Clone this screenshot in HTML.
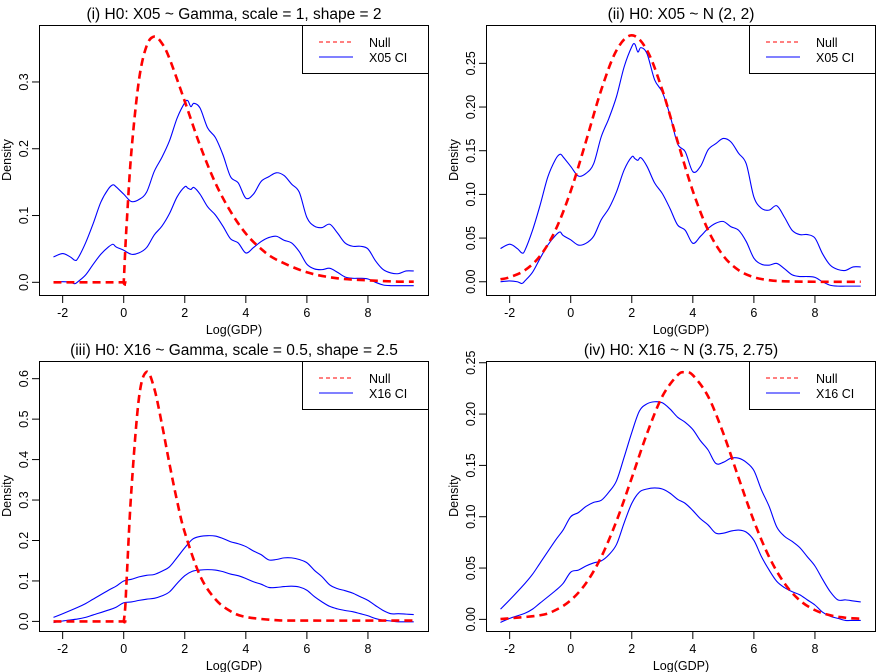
<!DOCTYPE html>
<html><head><meta charset="utf-8"><style>
html,body{margin:0;padding:0;background:#fff}
svg{display:block;font-family:"Liberation Sans",Arial,sans-serif}
</style></head><body>
<svg id="chart" width="894" height="672" viewBox="0 0 894 672"></svg>
<script>
const x05Grid=[-2.3,-2,-1.75,-1.6,-1.5,-1.25,-1,-0.75,-0.5,-0.35,-0.25,0,0.25,0.5,0.75,1,1.25,1.5,1.75,2,2.1,2.2,2.3,2.5,2.75,3,3.25,3.5,3.75,4,4.25,4.5,4.75,5,5.25,5.5,5.75,6,6.25,6.5,6.75,7,7.25,7.5,7.75,8,8.25,8.5,8.75,9,9.25,9.5];
const x05Upper=[.038,.043,.038,.033,.036,.059,.088,.120,.140,.146,.143,.132,.121,.124,.135,.166,.187,.212,.246,.269,.272,.263,.268,.261,.231,.217,.191,.158,.149,.126,.132,.151,.158,.164,.160,.147,.135,.097,.084,.082,.087,.074,.059,.054,.054,.050,.032,.019,.014,.013,.017,.017];
const x05Lower=[.000,.001,.000,-.002,.001,.011,.027,.042,.053,.057,.053,.048,.042,.044,.052,.071,.084,.103,.128,.143,.141,.139,.142,.132,.113,.101,.084,.065,.059,.044,.052,.061,.067,.069,.063,.059,.046,.027,.020,.019,.021,.015,.008,.006,.006,.005,.000,-.004,-.005,-.005,-.005,-.005];
const x16Grid=[-2.3,-2,-1.5,-1.25,-1,-0.5,-0.25,0,0.25,0.5,0.75,1,1.25,1.5,1.75,2,2.25,2.5,2.75,3,3.25,3.5,3.75,4,4.25,4.5,4.75,5,5.25,5.5,5.75,6,6.25,6.5,6.75,7,7.25,7.5,7.75,8,8.25,8.5,8.75,9,9.25,9.5];
const x16Upper=[.010,.019,.035,.044,.055,.077,.087,.100,.104,.110,.114,.116,.124,.135,.158,.182,.203,.210,.212,.211,.205,.197,.192,.185,.174,.165,.152,.153,.157,.157,.153,.145,.126,.110,.090,.081,.076,.070,.061,.052,.039,.027,.019,.019,.018,.017];
const x16Lower=[-.003,.001,.006,.010,.016,.028,.035,.046,.048,.052,.055,.057,.063,.073,.094,.113,.124,.127,.128,.127,.123,.117,.113,.106,.098,.092,.084,.084,.086,.087,.085,.077,.061,.048,.037,.031,.027,.024,.019,.014,.007,.003,.001,-.001,-.001,-.001];
const null1X=[-2.3,-0.02,0,0.05,0.1,0.25,0.5,0.75,1,1.25,1.5,2,2.5,3,3.5,4,4.5,5,6,7,8,9,9.5];
const null1Y=[0,0,0,0.048,0.090,0.195,0.303,0.354,0.368,0.358,0.335,0.271,0.205,0.149,0.106,0.073,0.050,0.034,0.015,0.006,0.003,0.001,0.001];
const null2X=[-2.3,-2,-1.5,-1,-0.5,0,0.5,1,1.5,2,2.5,3,3.5,4,4.5,5,5.5,6,6.5,7,8,9.5];
const null2Y=[.0028,.0052,.0132,.0297,.0591,.1038,.1607,.2196,.2649,.2821,.2649,.2196,.1607,.1038,.0591,.0297,.0132,.0052,.0018,.0005,0,0];
const null3X=[-2.3,-0.02,0,0.05,0.1,0.25,0.5,0.75,1,1.25,1.5,1.75,2,2.5,3,3.5,4,5,6,9.5];
const null3Y=[0,0,0,0.035,0.110,0.323,0.553,0.617,0.576,0.488,0.389,0.297,0.220,0.113,0.055,0.025,0.011,0.003,0.002,0.002];
const null4X=[-2.3,-1,-0.5,0,0.5,1,1.5,2,2.5,3,3.5,3.75,4,4.5,5,5.5,6,6.5,7,7.5,8,8.5,9,9.5];
const null4Y=[.0003,.0040,.0090,.0186,.0352,.0608,.0958,.1378,.1811,.2172,.2379,.2406,.2379,.2172,.1811,.1378,.0958,.0608,.0352,.0186,.0090,.0040,.0016,.0006];
const xTicks=[-2,0,2,4,6,8];
const yTicks1=[0,0.1,0.2,0.3], yTicks2=[0,0.05,0.1,0.15,0.2,0.25], yTicks3=[0,0.1,0.2,0.3,0.4,0.5,0.6], yTicks4=[0,0.05,0.1,0.15,0.2,0.25];
const yLabels1=["0.0","0.1","0.2","0.3"], yLabels2=["0.00","0.05","0.10","0.15","0.20","0.25"], yLabels3=["0.0","0.1","0.2","0.3","0.4","0.5","0.6"], yLabels4=yLabels2;

const NS="http://www.w3.org/2000/svg";
const svg=document.getElementById('chart');
function mk(tag,attrs,parent,text){const e=document.createElementNS(NS,tag);for(const k in attrs)e.setAttribute(k,attrs[k]);if(text!==undefined)e.textContent=text;(parent||svg).appendChild(e);return e;}
function smoothPath(pts){let d="M"+pts[0][0].toFixed(2)+","+pts[0][1].toFixed(2);
 for(let i=0;i<pts.length-1;i++){const p0=pts[Math.max(0,i-1)],p1=pts[i],p2=pts[i+1],p3=pts[Math.min(pts.length-1,i+2)];
  const c1=[p1[0]+(p2[0]-p0[0])/6,p1[1]+(p2[1]-p0[1])/6],c2=[p2[0]-(p3[0]-p1[0])/6,p2[1]-(p3[1]-p1[1])/6];
  d+="C"+c1[0].toFixed(2)+","+c1[1].toFixed(2)+" "+c2[0].toFixed(2)+","+c2[1].toFixed(2)+" "+p2[0].toFixed(2)+","+p2[1].toFixed(2);}
 return d;}
function panel(ox,oy,title,yMin,yMax,yTicks,yLabels,nx,ny,ciX,ciU,ciL,legendLabel,id){
 const g=mk('g',{transform:`translate(${ox},${oy})`});
 
 
 const L=39,R=429,T=25,B=296,xMin=-2.775,xMax=10.0;
 const sx=v=>L+(v-xMin)/(xMax-xMin)*(R-L);
 const sy=v=>B-(v-yMin)/(yMax-yMin)*(B-T);
 const t=mk('text',{x:234,y:19,'text-anchor':'middle','font-size':15.5},g,title);
 
 
 const box=mk('rect',{x:L+0.5,y:T+0.5,width:R-L-1,height:B-T-1,fill:'none',stroke:'#000','stroke-width':1},g);
 
 
 xTicks.forEach(v=>{const x=sx(v);mk('line',{x1:x,x2:x,y1:B,y2:B+7,stroke:'#000'},g);
  const tl=mk('text',{x:x,y:B+21,'text-anchor':'middle','font-size':12.5},g,String(v).replace('-','-'));
  
  });
 yTicks.forEach((v,i)=>{const y=sy(v);mk('line',{x1:L-7,x2:L,y1:y,y2:y,stroke:'#000'},g);
  const tl=mk('text',{x:0,y:0,'text-anchor':'middle','font-size':12.5,transform:`translate(${L-11},${y}) rotate(-90)`},g,yLabels[i]);
  
  });
 const xt=mk('text',{x:234,y:334,'text-anchor':'middle','font-size':12.5},g,'Log(GDP)');
 
 
 const yt=mk('text',{x:0,y:0,'text-anchor':'middle','font-size':12.5,transform:`translate(11,160) rotate(-90)`},g,'Density');
 
 
 const clip=mk('clipPath',{id:'clip'+id},g);mk('rect',{x:L,y:T,width:R-L,height:B-T},clip);
 const u=mk('path',{d:smoothPath(ciX.map((x,i)=>[sx(x),sy(ciU[i])])),fill:'none',stroke:'#0000ff','stroke-width':1.1},g);
 
 
 const lo=mk('path',{d:smoothPath(ciX.map((x,i)=>[sx(x),sy(ciL[i])])),fill:'none',stroke:'#0000ff','stroke-width':1.1},g);
 
 
 const n=mk('path',{d:smoothPath(nx.map((x,i)=>[sx(x),sy(ny[i])])),fill:'none',stroke:'#ff0000','stroke-width':2.6,'stroke-dasharray':'8,5','clip-path':`url(#clip${id})`},g);
 
 
 const lg=mk('g',{},g);
 
 
 mk('rect',{x:302.5,y:T+0.5,width:R-302-1,height:48,fill:'#fff',stroke:'#000'},lg);
 mk('line',{x1:319,x2:353,y1:42,y2:42,stroke:'#ff0000','stroke-width':1.1,'stroke-dasharray':'4,3'},lg);
 mk('line',{x1:319,x2:353,y1:57,y2:57,stroke:'#0000ff','stroke-width':1.1},lg);
 const e1=mk('text',{x:369,y:47,'font-size':12.5},lg,'Null');
 
 
 const e2=mk('text',{x:369,y:62,'font-size':12.5},lg,legendLabel);
 
 
}
panel(0,0,'(i) H0: X05 ~ Gamma, scale = 1, shape = 2',-0.0205,0.3853,yTicks1,yLabels1,null1X,null1Y,x05Grid,x05Upper,x05Lower,'X05 CI','i');
panel(447,0,'(ii) H0: X05 ~ N (2, 2)',-0.0163,0.2939,yTicks2,yLabels2,null2X,null2Y,x05Grid,x05Upper,x05Lower,'X05 CI','ii');
panel(0,336,'(iii) H0: X16 ~ Gamma, scale = 0.5, shape = 2.5',-0.0262,0.6437,yTicks3,yLabels3,null3X,null3Y,x16Grid,x16Upper,x16Lower,'X16 CI','iii');
panel(447,336,'(iv) H0: X16 ~ N (3.75, 2.75)',-0.0123,0.2517,yTicks4,yLabels4,null4X,null4Y,x16Grid,x16Upper,x16Lower,'X16 CI','iv');
</script>
</body></html>
